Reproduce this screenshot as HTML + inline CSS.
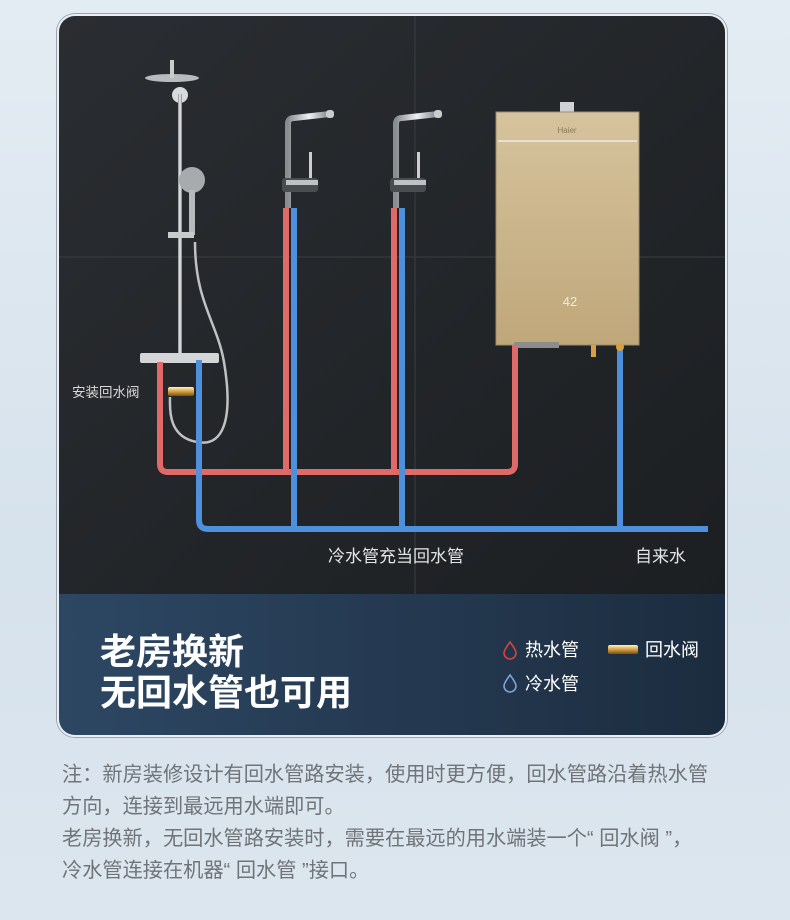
<!DOCTYPE html>
<html><head><meta charset="utf-8">
<style>
*{margin:0;padding:0;box-sizing:border-box}
body{width:790px;height:920px;overflow:hidden;background:linear-gradient(180deg,#e4ecf3 0%,#d6e2ec 60%,#dce6ef 100%);font-family:"Liberation Sans","Noto Sans CJK SC",sans-serif;position:relative}
.card{position:absolute;left:57px;top:14px;width:670px;height:723px;border-radius:18px;overflow:hidden;border:2px solid #e8eef4;box-shadow:0 0 0 1px #9aa4ae}
.note{position:absolute;left:62px;color:#707478;font-size:20.2px;letter-spacing:0;line-height:32px;top:759px;width:700px;white-space:nowrap}
</style></head><body>
<div class="card">
<svg width="670" height="723" viewBox="57 14 670 723" style="position:absolute;left:0;top:0">
<defs>
<linearGradient id="bg" x1="0" y1="0" x2="1" y2="1"><stop offset="0" stop-color="#2a2d31"/><stop offset="1" stop-color="#1c1f22"/></linearGradient>
<linearGradient id="band" x1="0" y1="0" x2="1" y2="0"><stop offset="0" stop-color="#2d4763"/><stop offset="1" stop-color="#1c2c3f"/></linearGradient>
<linearGradient id="gold" x1="0" y1="0" x2="0" y2="1"><stop offset="0" stop-color="#d6c39d"/><stop offset="1" stop-color="#bfa77a"/></linearGradient>
<linearGradient id="chrome" x1="0" y1="0" x2="1" y2="0"><stop offset="0" stop-color="#8a8d90"/><stop offset=".5" stop-color="#eef0f2"/><stop offset="1" stop-color="#7d8083"/></linearGradient>
<linearGradient id="brass" x1="0" y1="0" x2="0" y2="1"><stop offset="0" stop-color="#fff3c8"/><stop offset=".5" stop-color="#d8a040"/><stop offset="1" stop-color="#7a5010"/></linearGradient>
</defs>
<rect x="57" y="14" width="670" height="580" fill="url(#bg)"/>
<line x1="413" y1="14" x2="413" y2="594" stroke="#3a3d41" stroke-width="1"/>
<line x1="57" y1="255" x2="727" y2="255" stroke="#3a3d41" stroke-width="1"/>
<rect x="57" y="592" width="670" height="145" fill="url(#band)"/>
<ellipse cx="170" cy="76" rx="27" ry="4" fill="#b9bcbf"/>
<rect x="168" y="58" width="4" height="18" fill="#ccc"/>
<circle cx="178" cy="93" r="8" fill="#d8dadc"/>
<rect x="176" y="92" width="4" height="262" fill="url(#chrome)"/>
<circle cx="190" cy="178" r="13" fill="#a8abae"/>
<rect x="187" y="188" width="6" height="45" fill="#b8bbbe"/>
<rect x="166" y="230" width="26" height="6" fill="#c8cacc"/>
<path d="M193 240 C193 300 215 320 222 360 C232 420 220 445 195 440 C165 435 168 405 168 395" fill="none" stroke="#bfc1c3" stroke-width="2.5"/>
<rect x="138" y="351" width="79" height="10" rx="2" fill="#d3d5d7"/>
<g>
<path d="M286 206 V122 Q286 116 292 116 L328 112" fill="none" stroke="url(#chrome)" stroke-width="6"/>
<rect x="324" y="108" width="8" height="8" rx="3" fill="#ccc"/>
<rect x="307" y="150" width="3" height="28" fill="#ccc"/>
<rect x="280" y="176" width="36" height="14" rx="3" fill="#4a4d50"/>
<rect x="284" y="178" width="32" height="5" fill="#bfc2c4"/>
</g>
<g transform="translate(108,0)">
<path d="M286 206 V122 Q286 116 292 116 L328 112" fill="none" stroke="url(#chrome)" stroke-width="6"/>
<rect x="324" y="108" width="8" height="8" rx="3" fill="#ccc"/>
<rect x="307" y="150" width="3" height="28" fill="#ccc"/>
<rect x="280" y="176" width="36" height="14" rx="3" fill="#4a4d50"/>
<rect x="284" y="178" width="32" height="5" fill="#bfc2c4"/>
</g>
<rect x="558" y="100" width="14" height="12" fill="#cfd1d3"/>
<rect x="494" y="110" width="143" height="233" fill="url(#gold)" stroke="#9c8b6a"/>
<line x1="496" y1="139" x2="635" y2="139" stroke="#e6e0d4" stroke-width="2"/>
<text x="565" y="131" font-size="8" fill="#8a7a5a" text-anchor="middle">Haier</text>
<text x="568" y="304" font-size="13" fill="#f0ece0" text-anchor="middle">42</text>
<rect x="512" y="340" width="45" height="6" fill="#8c8c8c"/>
<g fill="none" stroke="#e06a67" stroke-width="6">
<path d="M158 360 V462 Q158 470 166 470 H505 Q513 470 513 462 V343"/>
<path d="M284 206 V470"/>
<path d="M392 206 V470"/>
</g>
<g fill="none" stroke="#4e90dc" stroke-width="6">
<path d="M197 358 V518 Q197 527 206 527 H706"/>
<path d="M292 206 V527"/>
<path d="M400 206 V527"/>
<path d="M618 345 V527"/>
</g>
<rect x="166" y="385" width="26" height="9" rx="2" fill="url(#brass)"/>
<rect x="589" y="343" width="5" height="12" fill="#d8a040"/>
<circle cx="618" cy="345" r="4" fill="#d8a040"/>
<text x="70" y="395" font-size="13.5" fill="#d8d8d8">安装回水阀</text>
<text x="326" y="560" font-size="17" fill="#e4e4e4">冷水管充当回水管</text>
<text x="633" y="560" font-size="17" fill="#e4e4e4">自来水</text>
<text x="98" y="662" font-size="36" font-weight="bold" fill="#fff">老房换新</text>
<text x="98" y="703" font-size="36" font-weight="bold" fill="#fff">无回水管也可用</text>
<path d="M508 640 Q502 648 502 651 A6 6 0 0 0 514 651 Q514 648 508 640Z" fill="none" stroke="#d6443c" stroke-width="1.6"/>
<text x="523" y="654" font-size="18" fill="#fff">热水管</text>
<path d="M508 673 Q502 681 502 684 A6 6 0 0 0 514 684 Q514 681 508 673Z" fill="none" stroke="#7da3d8" stroke-width="1.6"/>
<text x="523" y="688" font-size="18" fill="#fff">冷水管</text>
<rect x="606" y="643" width="30" height="9" rx="2" fill="url(#brass)"/>
<text x="643" y="654" font-size="18" fill="#fff">回水阀</text>
</svg>
</div>
<div class="note">注：新房装修设计有回水管路安装，使用时更方便，回水管路沿着热水管<br>方向，连接到最远用水端即可。<br>老房换新，无回水管路安装时，需要在最远的用水端装一个“ 回水阀 ”，<br>冷水管连接在机器“ 回水管 ”接口。</div>
</body></html>
